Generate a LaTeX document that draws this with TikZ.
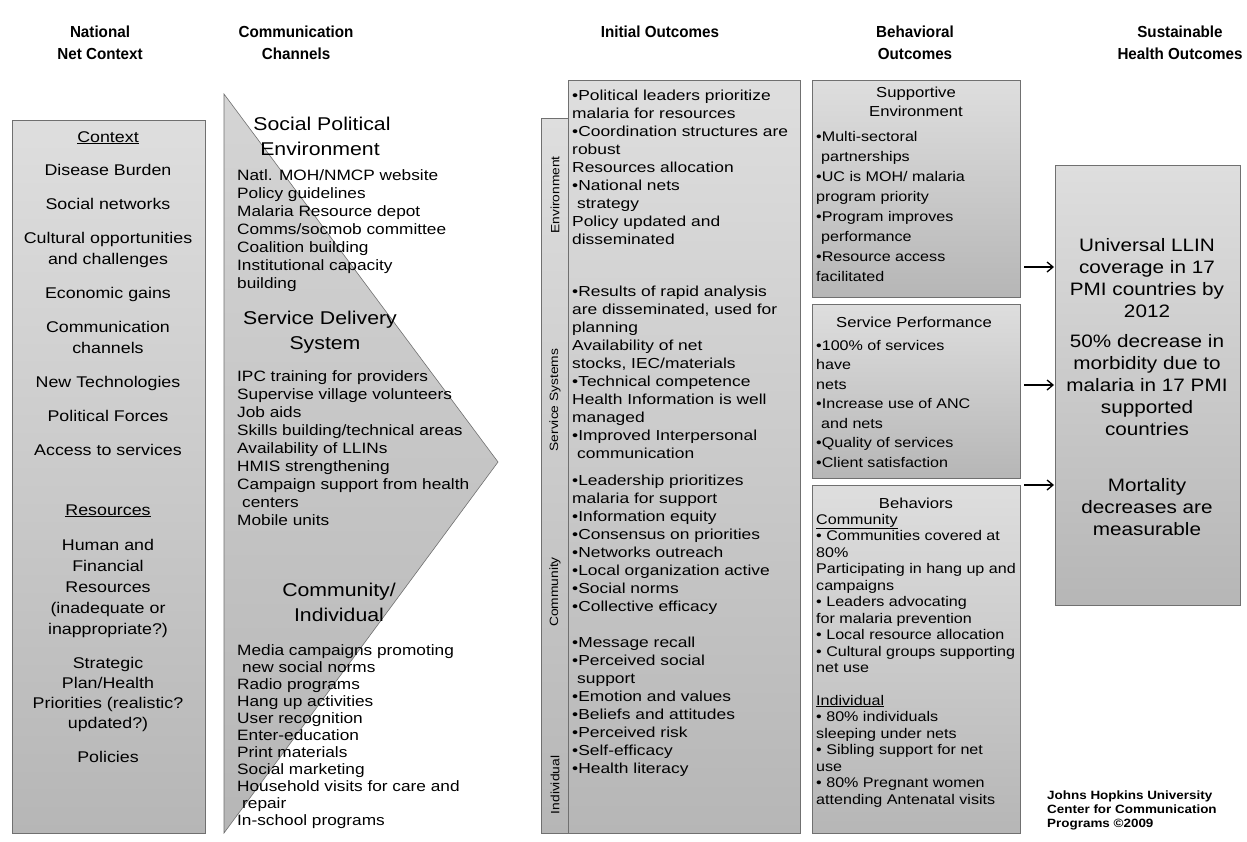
\documentclass[tikz,border=0pt]{standalone}
\usepackage{fontspec}
\setmainfont{Liberation Sans}
\newfontfamily\bodyf[FakeStretch=1.15]{Liberation Sans}
\newfontfamily\iof[FakeStretch=1.2]{Liberation Sans}
\newfontfamily\hdrf[FakeStretch=0.95]{Liberation Sans}
\newfontfamily\credf[FakeStretch=1.12]{Liberation Sans}
\usetikzlibrary{arrows.meta}
\definecolor{gtop}{HTML}{DEDEDE}
\definecolor{gbot}{HTML}{B6B6B6}
\definecolor{bord}{HTML}{707070}
\begin{document}
\begin{tikzpicture}[x=1pt,y=-1pt,
  hdr/.style={font=\hdrf\bfseries\fontsize{16}{18}\selectfont, inner sep=0pt, anchor=base},
  ctx/.style={font=\bodyf\fontsize{15.5}{18}\selectfont, inner sep=0pt, anchor=base},
  chh/.style={font=\bodyf\fontsize{18.5}{22}\selectfont, inner sep=0pt, anchor=base},
  cht/.style={font=\bodyf\fontsize{15}{18}\selectfont, inner sep=0pt, anchor=base west},
  iot/.style={font=\iof\fontsize{14.5}{17}\selectfont, inner sep=0pt, anchor=base west},
  lbl/.style={font=\bodyf\fontsize{12}{14}\selectfont, inner sep=0pt, rotate=90},
  bhh/.style={font=\bodyf\fontsize{14.5}{16}\selectfont, inner sep=0pt, anchor=base},
  bht/.style={font=\bodyf\fontsize{14}{16}\selectfont, inner sep=0pt, anchor=base west},
  outt/.style={font=\bodyf\fontsize{18}{21}\selectfont, inner sep=0pt, anchor=base},
  cred/.style={font=\credf\bfseries\fontsize{12}{14}\selectfont, inner sep=0pt, anchor=base west},
  box/.style={draw=bord, line width=0.8pt, top color=gtop, bottom color=gbot, inner sep=0pt, anchor=north west},
  arr/.style={-{Straight Barb[length=6pt,width=10pt]}, line width=1.3pt, black}
]
\useasboundingbox (0,0) rectangle (1247,841);
\fill[white] (0,0) rectangle (1247,841);

% ---------- headers ----------
\node[hdr] (h1a) at (100,37) {National};
\node[hdr] (h1b) at (100,59) {Net Context};
\node[hdr] (h2a) at (296,37) {Communication};
\node[hdr] (h2b) at (296,59) {Channels};
\node[hdr] (h3a) at (660,37) {Initial Outcomes};
\node[hdr] (h4a) at (915,37) {Behavioral};
\node[hdr] (h4b) at (915,59) {Outcomes};
\node[hdr] (h5a) at (1180,37) {Sustainable};
\node[hdr] (h5b) at (1180,59) {Health Outcomes};

% ---------- context box ----------
\node[box, minimum width=193pt, minimum height=713pt] (ctxbox) at (12,120) {};
\node[ctx] (c01) at (108,142) {\underline{Context}};
\node[ctx] (c02) at (108,175) {Disease Burden};
\node[ctx] (c03) at (108,209) {Social networks};
\node[ctx] (c04) at (108,243) {Cultural opportunities};
\node[ctx] (c05) at (108,264) {and challenges};
\node[ctx] (c06) at (108,298) {Economic gains};
\node[ctx] (c07) at (108,332) {Communication};
\node[ctx] (c08) at (108,353) {channels};
\node[ctx] (c09) at (108,387) {New Technologies};
\node[ctx] (c10) at (108,421) {Political Forces};
\node[ctx] (c11) at (108,455) {Access to services};
\node[ctx] (c12) at (108,515) {\underline{Resources}};
\node[ctx] (c13) at (108,550) {Human and};
\node[ctx] (c14) at (108,571) {Financial};
\node[ctx] (c15) at (108,592) {Resources};
\node[ctx] (c16) at (108,613) {(inadequate or};
\node[ctx] (c17) at (108,634) {inappropriate?)};
\node[ctx] (c18) at (108,668) {Strategic};
\node[ctx] (c19) at (108,688) {Plan/Health};
\node[ctx] (c20) at (108,708) {Priorities (realistic?};
\node[ctx] (c21) at (108,728) {updated?)};
\node[ctx] (c22) at (108,762) {Policies};

% ---------- communication channels (arrow triangle) ----------
\path[draw=bord, line width=0.6pt, top color=gtop!90!gray, bottom color=gbot] (224,94) -- (498,462) -- (224,833) -- cycle;
\node[chh] (s1a) at (322,130.5) {Social Political};
\node[chh] (s1b) at (320,155.5) {Environment};
\foreach \t [count=\k from 0] in {Natl. MOH/NMCP website, Policy guidelines, Malaria Resource depot, Comms/socmob committee, Coalition building, Institutional capacity, building}
  \node[cht] (cha\k) at (237,180+18*\k) {\t};
\node[chh] (s2a) at (320,324.5) {Service Delivery};
\node[chh] (s2b) at (325,349.5) {System};
\foreach \t [count=\k from 0] in {IPC training for providers, Supervise village volunteers, Job aids, Skills building/technical areas, Availability of LLINs, HMIS strengthening, Campaign support from health, \hspace{5pt}centers, Mobile units}
  \node[cht] (chb\k) at (237,381+18*\k) {\t};
\node[chh] (s3a) at (339,596.5) {Community/};
\node[chh] (s3b) at (339,621.5) {Individual};
\foreach \t [count=\k from 0] in {Media campaigns promoting, \hspace{5pt}new social norms, Radio programs, Hang up activities, User recognition, Enter-education, Print materials, Social marketing, Household visits for care and, \hspace{5pt}repair, In-school programs}
  \node[cht] (chc\k) at (237,655+17*\k) {\t};

% ---------- initial outcomes ----------
\node[box, minimum width=27pt, minimum height=715pt] (iostrip) at (541,118) {};
\node[box, minimum width=232pt, minimum height=753pt] (iomain) at (568,80) {};
\node[lbl] (l1) at (555,195) {Environment};
\node[lbl] (l2) at (555,400) {Service Systems};
\node[lbl] (l3) at (555,592) {Community};
\node[lbl] (l4) at (555,785) {Individual};
\foreach \t [count=\k from 0] in {•Political leaders prioritize, malaria for resources, •Coordination structures are, robust, Resources allocation, •National nets, \hspace{5pt}strategy, Policy updated and, disseminated}
  \node[iot] (ioa\k) at (572,100+18*\k) {\t};
\foreach \t [count=\k from 0] in {•Results of rapid analysis, {are disseminated, used for}, planning, Availability of net, {stocks, IEC/materials}, •Technical competence, Health Information is well, managed, •Improved Interpersonal, \hspace{5pt}communication}
  \node[iot] (iob\k) at (572,296+18*\k) {\t};
\foreach \t [count=\k from 0] in {•Leadership prioritizes, malaria for support, •Information equity, •Consensus on priorities, •Networks outreach, •Local organization active, •Social norms, •Collective efficacy}
  \node[iot] (ioc\k) at (572,485+18*\k) {\t};
\foreach \t [count=\k from 0] in {•Message recall, •Perceived social, \hspace{5pt}support, •Emotion and values, •Beliefs and attitudes, •Perceived risk, •Self-efficacy, •Health literacy}
  \node[iot] (iod\k) at (572,647+18*\k) {\t};

% ---------- behavioral outcomes ----------
\node[box, minimum width=208pt, minimum height=217pt] (bh1) at (812,80) {};
\node[bhh] (bh1t1) at (916,97) {Supportive};
\node[bhh] (bh1t2) at (916,116) {Environment};
\foreach \t [count=\k from 0] in {•Multi-sectoral, \hspace{5pt}partnerships, •UC is MOH/ malaria, program priority, •Program improves, \hspace{5pt}performance, •Resource access, facilitated}
  \node[bht] (bha\k) at (816,141+20*\k) {\t};

\node[box, minimum width=208pt, minimum height=174pt] (bh2) at (812,304) {};
\node[bhh] (bh2t) at (914,327) {Service Performance};
\foreach \t [count=\k from 0] in {•100\% of services, have, nets, •Increase use of ANC, \hspace{5pt}and nets, •Quality of services, •Client satisfaction}
  \node[bht] (bhb\k) at (816,350+19.5*\k) {\t};

\node[box, minimum width=208pt, minimum height=348pt] (bh3) at (812,485) {};
\node[bhh] (bh3t) at (916,508) {Behaviors};
\foreach \t [count=\k from 0] in {\underline{Community}, • Communities covered at, 80\%, Participating in hang up and, campaigns, • Leaders advocating, for malaria prevention, • Local resource allocation, • Cultural groups supporting, net use}
  \node[bht] (bhc\k) at (816,524+16.5*\k) {\t};
\foreach \t [count=\k from 0] in {\underline{Individual}, • 80\% individuals, sleeping under nets, • Sibling support for net, use, • 80\% Pregnant women, attending Antenatal visits}
  \node[bht] (bhd\k) at (816,705+16.5*\k) {\t};

% ---------- sustainable health outcomes ----------
\node[box, minimum width=185pt, minimum height=440pt] (outbox) at (1055,165) {};
\node[outt] (o01) at (1147,251.5) {Universal LLIN};
\node[outt] (o02) at (1147,273.5) {coverage in 17};
\node[outt] (o03) at (1147,295.5) {PMI countries by};
\node[outt] (o04) at (1147,317.5) {2012};
\node[outt] (o05) at (1147,347.5) {50\% decrease in};
\node[outt] (o06) at (1147,369.5) {morbidity due to};
\node[outt] (o07) at (1147,391.5) {malaria in 17 PMI};
\node[outt] (o08) at (1147,413.5) {supported};
\node[outt] (o09) at (1147,435.5) {countries};
\node[outt] (o10) at (1147,491.5) {Mortality};
\node[outt] (o11) at (1147,513.5) {decreases are};
\node[outt] (o12) at (1147,535.5) {measurable};

% ---------- arrows ----------
\coordinate (a1s) at (1024,267); \coordinate (a1e) at (1054,267);
\coordinate (a2s) at (1024,385); \coordinate (a2e) at (1054,385);
\coordinate (a3s) at (1024,485); \coordinate (a3e) at (1054,485);
\draw[arr] (a1s) -- (a1e);
\draw[arr] (a2s) -- (a2e);
\draw[arr] (a3s) -- (a3e);

% ---------- credit ----------
\node[cred] (cr1) at (1047,799) {Johns Hopkins University};
\node[cred] (cr2) at (1047,813) {Center for Communication};
\node[cred] (cr3) at (1047,827) {Programs ©2009};
\end{tikzpicture}
\end{document}
